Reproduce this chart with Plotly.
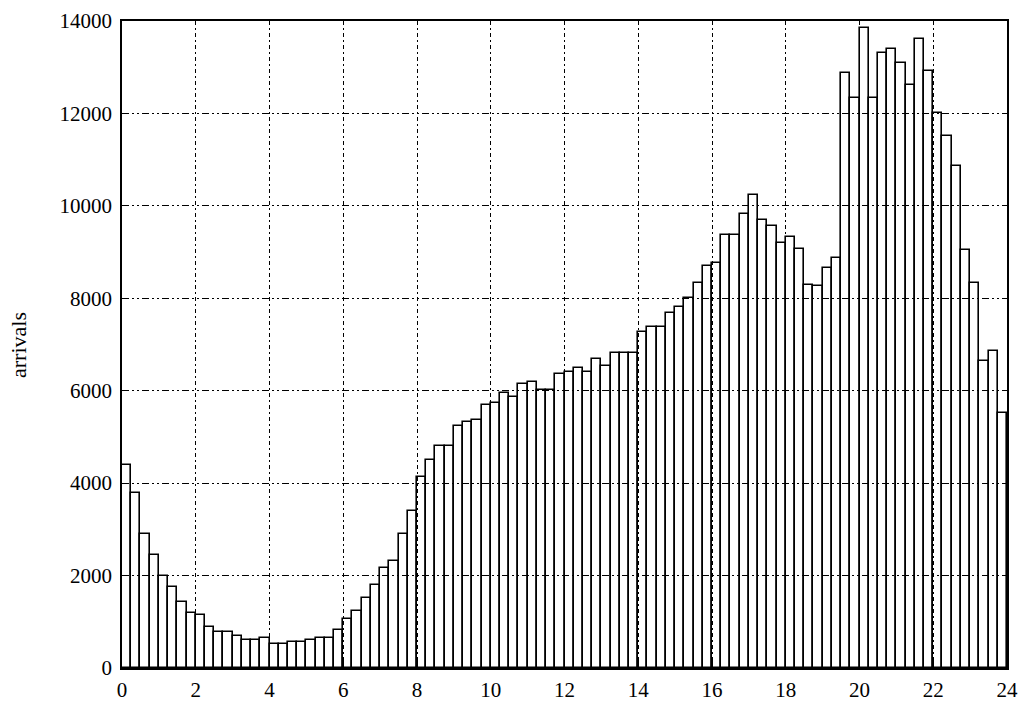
import plotly.graph_objects as go

# bin start hours (15-minute bins)
bin_start = [i * 0.25 for i in range(96)]

arrivals = [
    4400, 3780, 2900, 2450, 2000, 1750, 1430, 1180,   # 0-2
    1140, 890, 770, 770, 690, 607, 607, 650,          # 2-4
    520, 520, 557, 557, 607, 650, 650, 820,           # 4-6
    1057, 1230, 1507, 1800, 2164, 2321, 2907, 3393,   # 6-8
    4130, 4504, 4793, 4793, 5240, 5319, 5369, 5694,   # 8-10
    5730, 5946, 5860, 6140, 6198, 6020, 6020, 6360,   # 10-12
    6414, 6486, 6414, 6688, 6537, 6825, 6825, 6825,   # 12-14
    7265, 7387, 7387, 7676, 7805, 8000, 8340, 8700,   # 14-16
    8755, 9360, 9360, 9827, 10237, 9698, 9561, 9194,  # 16-18
    9324, 9072, 8295, 8259, 8662, 8871, 12870, 12331, # 18-20
    13856, 12331, 13317, 13403, 13086, 12619, 13604, 12921,  # 20-22
    12000, 11518, 10856, 9036, 8331, 6647, 6856, 5525,       # 22-24
]

x_ticks = list(range(0, 25, 2))
y_ticks = list(range(0, 14001, 2000))

FONT = "Liberation Serif"
W, H = 1019, 702
ML, MR, MT, MB = 122, 12, 21, 34

fig = go.Figure()
fig.add_trace(go.Bar(
    x=bin_start,
    y=arrivals,
    width=0.25,
    offset=0,
    marker=dict(color="rgba(0,0,0,0)", line=dict(color="black", width=1.6)),
    showlegend=False,
    cliponaxis=False,
    hoverinfo="skip",
))

h_dash = "7px,3px,2px,3px,2px,3px"
v_dash = "4px,3px,2px,3px"

plot_w = W - ML - MR
plot_h = H - MT - MB

fig.update_layout(
    width=W,
    height=H,
    margin=dict(l=ML, r=MR, t=MT, b=MB, autoexpand=False),
    paper_bgcolor="white",
    plot_bgcolor="white",
    bargap=0,
    font=dict(family=FONT, size=20, color="black"),
    xaxis=dict(
        range=[0, 24],
        tickvals=x_ticks,
        ticktext=[str(v) for v in x_ticks],
        showgrid=True,
        gridcolor="black",
        gridwidth=1,
        griddash=v_dash,
        showline=True,
        linecolor="black",
        linewidth=1.5,
        mirror=True,
        ticks="inside",
        ticklen=7,
        tickcolor="black",
        zeroline=False,
        automargin=False,
        tickfont=dict(family=FONT, size=21, color="black"),
        ticklabelstandoff=2,
    ),
    yaxis=dict(
        range=[0, 14000],
        tickvals=y_ticks,
        ticktext=[str(v) for v in y_ticks],
        showgrid=True,
        gridcolor="black",
        gridwidth=1,
        griddash=h_dash,
        showline=True,
        linecolor="black",
        linewidth=1.5,
        mirror=True,
        ticks="inside",
        ticklen=7,
        tickcolor="black",
        zeroline=False,
        automargin=False,
        tickfont=dict(family=FONT, size=21, color="black"),
        ticklabelstandoff=4,
    ),
    annotations=[dict(
        text="arrivals",
        x=(18 - ML) / plot_w,
        y=(H - MB - 345) / plot_h,
        xref="paper", yref="paper",
        showarrow=False,
        textangle=-90,
        font=dict(family=FONT, size=22, color="black"),
        xanchor="center", yanchor="middle",
    )],
)

fig.write_html(
    "out.html",
    config={"displayModeBar": False},
    post_script="document.body.style.margin='0';document.body.style.overflow='hidden';",
)
